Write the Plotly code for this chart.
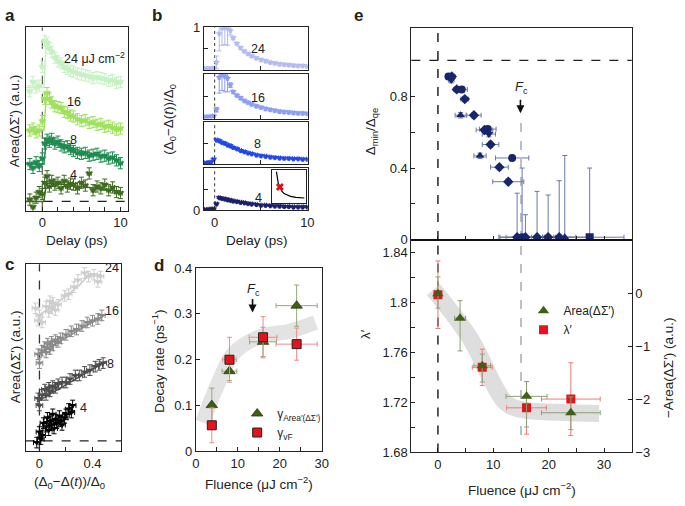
import plotly.graph_objects as go

# ====================== DATA ======================
# ---- panel a : Area(ΔΣ') vs delay, offset curves ----
delay_a = [-1.6, -1.2, -0.8, -0.4, 0.0, 0.3, 0.6, 0.9, 1.2, 1.6, 2.0, 2.4, 2.8, 3.2,
           3.6, 4.0, 4.5, 5.0, 5.5, 6.0, 6.5, 7.0, 7.5, 8.0, 8.5, 9.0, 9.5, 10.0]
area_4 = [0.1, -0.3, 0.2, 0.5, 0.4, 1.0, 1.35, 0.8, 1.1, 0.9, 1.0, 0.7, 1.1, 0.8,
          0.95, 0.9, 0.7, 1.0, 0.85, 1.5, 0.6, 0.8, 0.7, 0.9, 0.6, 0.75, 0.5, 0.45]
area_8 = [2.0, 1.8, 2.1, 1.9, 2.3, 3.1, 3.3, 3.2, 3.35, 3.1, 3.2, 3.0, 2.9, 2.95,
          2.8, 2.7, 2.6, 2.55, 2.6, 2.45, 2.5, 2.55, 2.4, 2.45, 2.3, 2.35, 2.2, 2.05]
area_16 = [3.8, 3.9, 3.7, 3.8, 4.3, 5.5, 5.8, 5.5, 5.3, 5.1, 5.05, 5.0, 4.8, 4.75,
           4.6, 4.55, 4.4, 4.3, 4.35, 4.2, 4.25, 4.1, 4.15, 4.0, 4.05, 3.95, 3.85, 3.9]
area_24 = [5.9, 6.4, 6.1, 6.2, 7.2, 8.6, 8.5, 8.2, 8.0, 7.7, 7.5, 7.4, 7.2, 7.1,
           7.0, 6.95, 6.85, 6.8, 6.75, 6.7, 6.6, 6.65, 6.6, 6.55, 6.45, 6.5, 6.35, 6.4]
fit_t_a = [-2.2, 0.2, 0.5, 1, 2, 3, 4, 5, 6, 7, 8, 9, 10]
fit_a_4 = [0.0, 0.0, 0.95, 0.98, 0.95, 0.9, 0.85, 0.8, 0.75, 0.7, 0.65, 0.6, 0.55]
fit_a_8 = [2.0, 2.0, 3.2, 3.25, 3.15, 3.0, 2.85, 2.7, 2.6, 2.5, 2.4, 2.3, 2.2]
fit_a_16 = [3.8, 3.8, 5.6, 5.5, 5.1, 4.8, 4.55, 4.35, 4.2, 4.1, 4.0, 3.95, 3.9]
fit_a_24 = [6.1, 6.1, 8.5, 8.3, 7.6, 7.2, 7.0, 6.8, 6.7, 6.6, 6.55, 6.5, 6.45]

# ---- panel b : (Δ0-Δ(t))/Δ0 vs delay (each sub-panel normalised) ----
delay_b = [-1.0, -0.7, -0.4, -0.1, 0.2, 0.5, 0.8, 1.1, 1.4, 1.7, 2.0, 2.4, 2.8, 3.2,
           3.6, 4.0, 4.5, 5.0, 5.5, 6.0, 6.5, 7.0, 7.5, 8.0, 8.5, 9.0, 9.5, 10.0]
gap_4 = [0.02, 0.02, 0.03, 0.03, 0.15, 0.30, 0.28, 0.27, 0.25, 0.24, 0.22, 0.21, 0.19, 0.18,
         0.16, 0.15, 0.14, 0.12, 0.12, 0.11, 0.10, 0.10, 0.09, 0.09, 0.08, 0.08, 0.08, 0.08]
gap_8 = [0.03, 0.04, 0.05, 0.12, 0.58, 0.56, 0.52, 0.50, 0.46, 0.44, 0.40, 0.37, 0.33, 0.30,
         0.27, 0.25, 0.22, 0.20, 0.19, 0.17, 0.16, 0.15, 0.14, 0.14, 0.13, 0.13, 0.12, 0.12]
gap_16 = [0.04, 0.04, 0.05, 0.06, 0.20, 0.92, 0.98, 0.95, 0.90, 0.75, 0.60, 0.52, 0.46, 0.40,
          0.36, 0.32, 0.28, 0.25, 0.22, 0.20, 0.18, 0.16, 0.15, 0.14, 0.13, 0.12, 0.12, 0.11]
gap_24 = [0.04, 0.04, 0.04, 0.05, 0.18, 0.85, 0.98, 1.0, 0.98, 0.92, 0.75, 0.62, 0.52, 0.44,
          0.38, 0.33, 0.28, 0.24, 0.21, 0.18, 0.16, 0.14, 0.13, 0.12, 0.11, 0.10, 0.10, 0.09]
gap_err_16 = [0.02, 0.02, 0.02, 0.02, 0.05, 0.35, 0.35, 0.35, 0.30, 0.05, 0.03, 0.03, 0.03, 0.03,
              0.03, 0.03, 0.03, 0.03, 0.03, 0.03, 0.03, 0.03, 0.03, 0.03, 0.03, 0.03, 0.03, 0.03]
gap_err_24 = [0.02, 0.02, 0.02, 0.02, 0.15, 0.40, 0.40, 0.40, 0.40, 0.10, 0.04, 0.03, 0.03, 0.03,
              0.03, 0.03, 0.03, 0.03, 0.03, 0.03, 0.03, 0.03, 0.03, 0.03, 0.03, 0.03, 0.03, 0.03]
inset_x = [0.14, 0.16, 0.19, 0.22, 0.26, 0.30, 0.36, 0.45, 0.55, 0.70, 0.85, 0.95]
inset_y = [1.0, 0.82, 0.65, 0.55, 0.45, 0.37, 0.30, 0.25, 0.21, 0.18, 0.17, 0.16]
inset_star_x = [0.24]
inset_star_y = [0.51]

# ---- panel c : Area(ΔΣ') vs gap suppression ----
c4_x = [-0.02, 0.0, 0.01, 0.02, 0.03, 0.05, 0.06, 0.07, 0.08, 0.09, 0.10, 0.11, 0.12, 0.13,
        0.15, 0.16, 0.17, 0.19, 0.20, 0.22, 0.24, 0.25]
c4_y = [-0.1, 0.5, 0.1, 0.3, 1.0, 0.8, 1.3, 0.6, 1.1, 0.9, 1.5, 0.7, 1.2, 1.0,
        1.4, 1.1, 0.9, 1.3, 1.5, 1.8, 1.6, 2.0]
c8_x = [-0.01, 0.0, 0.02, 0.04, 0.05, 0.07, 0.08, 0.10, 0.12, 0.14, 0.17, 0.20, 0.23, 0.27,
        0.30, 0.34, 0.38, 0.42, 0.45, 0.48]
c8_y = [2.4, 2.0, 2.6, 2.9, 2.6, 3.0, 2.8, 3.1, 3.0, 3.2, 3.3, 3.3, 3.5, 3.7,
        3.7, 3.9, 4.0, 4.2, 4.3, 4.4]
c16_x = [-0.01, 0.0, 0.02, 0.04, 0.05, 0.06, 0.08, 0.09, 0.10, 0.12, 0.14, 0.16, 0.20, 0.24,
         0.28, 0.32, 0.36, 0.40, 0.44, 0.47]
c16_y = [4.9, 4.4, 5.1, 5.3, 5.0, 5.5, 5.2, 5.6, 5.4, 5.7, 5.6, 5.8, 6.0, 6.2,
         6.3, 6.5, 6.7, 6.8, 6.9, 7.1]
c24_x = [-0.03, -0.01, 0.0, 0.02, 0.05, 0.07, 0.08, 0.09, 0.10, 0.12, 0.14, 0.19, 0.22, 0.26,
         0.29, 0.34, 0.37, 0.41, 0.44, 0.46]
c24_y = [7.5, 6.8, 7.1, 6.7, 7.6, 7.3, 7.9, 7.5, 7.8, 7.4, 7.7, 8.2, 8.3, 8.7,
         9.1, 9.5, 9.3, 9.4, 9.0, 9.3]
fit_c_x = [-0.02, 0.50]
fit_c4_y = [0.3, 2.3]
fit_c8_y = [2.2, 4.5]
fit_c16_y = [4.87, 7.16]
fit_c24_x = [-0.02, 0.10, 0.20, 0.30, 0.38, 0.47]
fit_c24_y = [7.07, 7.6, 8.2, 8.8, 9.45, 9.4]

# ---- panel d : decay rates ----
fluence_d = [3.8, 8, 16, 24]
rate_area = [0.101, 0.175, 0.239, 0.318]
rate_area_yerr = [0.037, 0.02, 0.032, 0.045]
rate_area_xerr = [0.4, 1.75, 3.2, 4.9]
rate_vf = [0.057, 0.200, 0.249, 0.234]
rate_vf_yerr = [0.038, 0.049, 0.045, 0.035]
rate_vf_xerr = [0.5, 1.6, 3.3, 4.9]
band_d_x = [1.6, 5.1, 9.0, 15.2, 22.3, 28.5]
band_d_y = [0.063, 0.144, 0.214, 0.250, 0.262, 0.281]

# ---- panel e (top) : Δmin/Δqe ----
fl_top = [1.9, 2.5, 2.4, 3.4, 4.3, 4.85, 4.1, 6.5, 8.4, 9.0, 9.2, 9.5, 7.6, 13.4, 11.1, 12.7,
          14.3, 15.2, 15.8, 17.9, 19.9, 21.9, 22.9, 27.4]
ratio_top = [0.91, 0.91, 0.89, 0.838, 0.838, 0.784, 0.694, 0.694, 0.612, 0.617, 0.589, 0.531,
             0.468, 0.456, 0.405, 0.324,
             0.015, 0.015, 0.015, 0.015, 0.015, 0.015, 0.015, 0.015]
ratio_err_up = [0.015, 0.015, 0.015, 0.015, 0.015, 0.015, 0.015, 0.015, 0.015, 0.015, 0.015,
                0.015, 0.015, 0.015, 0.015, 0.015,
                0.245, 0.385, 0.125, 0.255, 0.235, 0.315, 0.455, 0.385]
ratio_err_dn = [0.015, 0.015, 0.015, 0.015, 0.015, 0.015, 0.015, 0.015, 0.015, 0.015, 0.015,
                0.015, 0.015, 0.015, 0.015, 0.015, 0, 0, 0, 0, 0, 0, 0, 0]
fl_top_xerr = [0.5, 0.6, 0.5, 0.6, 1.0, 0.7, 1.0, 1.3, 1.5, 1.5, 1.2, 1.5, 1.1, 3.0, 1.6, 2.8,
               3.3, 4.0, 3.5, 3.0, 3.0, 3.0, 4.0, 6.2]
sym_top = ['circle', 'diamond', 'triangle-down', 'diamond', 'circle', 'diamond', 'triangle-up',
           'diamond', 'diamond', 'circle', 'triangle-down', 'diamond', 'triangle-up', 'circle',
           'diamond', 'diamond', 'diamond', 'circle', 'diamond', 'diamond', 'diamond', 'diamond',
           'triangle-up', 'square']

# ---- panel e (bottom) : λ' and -Area(ΔΣ') ----
fl_lambda = [0, 8, 16, 24]
lam = [1.806, 1.748, 1.7156, 1.7226]
lam_err = [0.027, 0.0145, 0.021, 0.029]
lam_xerr = [0, 1.8, 3.6, 5.3]
fl_area = [0, 4, 8, 16, 24]
neg_area = [0.0, -0.46, -1.36, -1.94, -2.25]
neg_area_up = [0.32, 0.33, 0.22, 0.28, 0.3]
neg_area_dn = [0.27, 0.62, 0.31, 0.58, 0.32]
fl_area_xerr = [0, 1.0, 1.5, 3.7, 5.3]
band_e_x = [-0.8, 5.7, 12.3, 15.2, 22.0, 29.1]
band_e_y = [1.81, 1.772, 1.7195, 1.714, 1.712, 1.711]

# ====================== STYLE / HELPERS ======================
W, H = 685, 506
FONT = "Liberation Sans, Arial, Helvetica, sans-serif"
LINE = "#222222"
TXT = "#222222"


def xd(x0, x1):
    return [x0 / W, x1 / W]


def yd(y0, y1):
    return [1 - y1 / H, 1 - y0 / H]


def px(x):
    return x / W


def py(y):
    return 1 - y / H


def axis(domain, rng, anchor, tickvals=None, ticktext=None, labels=True, **kw):
    d = dict(domain=domain, range=rng, anchor=anchor, showline=True, mirror=True,
             linecolor=LINE, linewidth=1, ticks='inside', ticklen=4, tickcolor=LINE,
             showgrid=False, zeroline=False, fixedrange=True,
             tickfont=dict(size=13, color=TXT, family=FONT), showticklabels=labels)
    if tickvals is not None:
        d['tickmode'] = 'array'
        d['tickvals'] = tickvals
        d['ticktext'] = ticktext if ticktext is not None else [str(v) for v in tickvals]
    d.update(kw)
    return d


fig = go.Figure()


def add(x, y, xa, ya, color, symbol='triangle-down', size=6, ey=None, ex=None,
        ecolor=None, mode='markers', line=None, name=None, legend=None, mline=None,
        eyminus=None):
    tr = dict(x=x, y=y, xaxis=xa, yaxis=ya, mode=mode, showlegend=False,
              hoverinfo='skip')
    if 'markers' in mode:
        tr['marker'] = dict(symbol=symbol, size=size, color=color,
                            line=mline if mline else dict(width=0))
    if line:
        tr['line'] = line
    ec = ecolor or color
    if ey is not None:
        if isinstance(ey, list):
            e = dict(type='data', array=ey, color=ec, thickness=1, width=2.5)
            if eyminus is not None:
                e['symmetric'] = False
                e['arrayminus'] = eyminus
        else:
            e = dict(type='constant', value=ey, color=ec, thickness=1, width=2.5)
        tr['error_y'] = e
    if ex is not None:
        if isinstance(ex, list):
            e = dict(type='data', array=ex, color=ec, thickness=1, width=2.5)
        else:
            e = dict(type='constant', value=ex, color=ec, thickness=1, width=2.5)
        tr['error_x'] = e
    if name:
        tr['name'] = name
        tr['showlegend'] = True
        tr['legend'] = legend
    fig.add_trace(go.Scatter(**tr))


# ---------------- panel a ----------------
ca = {'4': '#3d6b1f', '8': '#1d8c4e', '16': '#9de25c', '24': '#c6f1c2'}
for key, ys, fy in [('24', area_24, fit_a_24), ('16', area_16, fit_a_16),
                    ('8', area_8, fit_a_8), ('4', area_4, fit_a_4)]:
    add(fit_t_a, fy, 'x', 'y', ca[key], mode='lines', line=dict(color=ca[key], width=1.5))
    add(delay_a, ys, 'x', 'y', ca[key], size=7, ey=0.3, ex=0.25)

# ---------------- panel b ----------------
cb = {'4': '#19216a', '8': '#2347e6', '16': '#8c9df2', '24': '#b3bbf3'}
add(delay_b, gap_24, 'x2', 'y2', cb['24'], size=6, ey=gap_err_24, ex=0.1)
add(delay_b, gap_16, 'x3', 'y3', cb['16'], size=6, ey=gap_err_16, ex=0.1)
add(delay_b, gap_8, 'x4', 'y4', cb['8'], size=6, ey=0.02, ex=0.1)
add(delay_b, gap_4, 'x5', 'y5', cb['4'], size=6, ey=0.02, ex=0.1)
add(inset_x, inset_y, 'x6', 'y6', 'black', mode='lines', line=dict(color='black', width=1.2))
add(inset_star_x, inset_star_y, 'x6', 'y6', '#e01010', symbol='x', size=7)

# ---------------- panel c ----------------
cc = {'4': '#000000', '8': '#4d4d4d', '16': '#8a8a8a', '24': '#cdcdcd'}
add(fit_c24_x, fit_c24_y, 'x7', 'y7', cc['24'], mode='lines', line=dict(color=cc['24'], width=1.5))
add(c24_x, c24_y, 'x7', 'y7', cc['24'], size=6, ey=0.3, ex=0.025)
add(fit_c_x, fit_c16_y, 'x7', 'y7', cc['16'], mode='lines', line=dict(color=cc['16'], width=1.5))
add(c16_x, c16_y, 'x7', 'y7', cc['16'], size=6, ey=0.3, ex=0.025)
add(fit_c_x, fit_c8_y, 'x7', 'y7', cc['8'], mode='lines', line=dict(color=cc['8'], width=1.5))
add(c8_x, c8_y, 'x7', 'y7', cc['8'], size=6, ey=0.3, ex=0.025)
add(c4_x, c4_y, 'x7', 'y7', cc['4'], size=6, ey=0.3, ex=0.025)

# ---------------- panel d ----------------
add(band_d_x, band_d_y, 'x8', 'y8', '#e3e3e3', mode='lines',
    line=dict(color='#e3e3e3', width=15, shape='spline'))
add(fluence_d, rate_area, 'x8', 'y8', '#3f5f14', symbol='triangle-up', size=10,
    ey=rate_area_yerr, ex=rate_area_xerr, ecolor='#93a97c',
    mline=dict(color='#2a3a10', width=0.8),
    name='γ<sub>Area′(ΔΣ′)</sub>', legend='legend')
add(fluence_d, rate_vf, 'x8', 'y8', '#e3141c', symbol='square', size=9,
    ey=rate_vf_yerr, ex=rate_vf_xerr, ecolor='#f08a8a',
    mline=dict(color='#222222', width=1), name='γ<sub>vF</sub>', legend='legend')

# ---------------- panel e ----------------
add(fl_top, ratio_top, 'x9', 'y9', '#17266b', symbol=sym_top, size=8,
    ey=ratio_err_up, eyminus=ratio_err_dn, ex=fl_top_xerr, ecolor='#6a78ad')
add(band_e_x, band_e_y, 'x10', 'y10', '#dedede', mode='lines',
    line=dict(color='#dedede', width=17, shape='spline'))
add(fl_area, neg_area, 'x10', 'y11', '#3f5f14', symbol='triangle-up', size=10,
    ey=neg_area_up, eyminus=neg_area_dn, ex=fl_area_xerr, ecolor='#8aa176',
    name='Area(ΔΣ′)', legend='legend2')
add(fl_lambda, lam, 'x10', 'y10', '#e3141c', symbol='square', size=9,
    ey=lam_err, ex=lam_xerr, ecolor='#f07a7a', name='λ′', legend='legend2')

# ====================== LAYOUT ======================
lay = dict(width=W, height=H, margin=dict(l=0, r=0, t=0, b=0),
           paper_bgcolor='white', plot_bgcolor='white',
           font=dict(family=FONT, size=13, color=TXT))

# panel a
lay['xaxis'] = axis(xd(22, 126), [-2.14, 10.97], 'y', [0, 2, 4, 6, 8, 10],
                    ['0', '', '', '', '', '10'])
lay['yaxis'] = axis(yd(21, 210), [-0.5, 9.32], 'x', [], [], labels=False, ticks='')
# panel b (four stacked boxes)
bx = xd(203, 308.5)
brng = [-1.17, 10.02]
b_boxes = [(21, 65), (69, 115), (119, 162), (166, 209.5)]
for i, (y0, y1) in enumerate(b_boxes):
    n = i + 2
    last = (i == 3)
    lay['xaxis%d' % n] = axis(bx, brng, 'y%d' % n, [0, 5, 10],
                              ['0', '', '10'] if last else ['', '', ''],
                              labels=last)
    if i == 0:
        tv, tt = [0.5, 1.0], ['', '1']
    elif last:
        tv, tt = [0.0, 0.5], ['0', '']
    else:
        tv, tt = [0.5], ['']
    lay['yaxis%d' % n] = axis(yd(y0, y1), [0, 1.0], 'x%d' % n, tv, tt)
# inset
lay['xaxis6'] = axis(xd(272, 307), [0, 1], 'y6', [], [], labels=False, ticks='')
lay['yaxis6'] = axis(yd(168, 202), [0, 1.05], 'x6', [], [], labels=False, ticks='')
# panel c
lay['xaxis7'] = axis(xd(22, 119), [-0.104, 0.615], 'y7', [0, 0.2, 0.4], ['0', '', '0.4'])
lay['yaxis7'] = axis(yd(265, 458), [-0.6, 10], 'x7', [], [], labels=False, ticks='')
# panel d
lay['xaxis8'] = axis(xd(195, 323), [0, 30], 'y8', [0, 5, 10, 15, 20, 25, 30],
                     ['0', '', '10', '', '20', '', '30'])
lay['yaxis8'] = axis(yd(269, 458), [0, 0.4], 'x8', [0, 0.1, 0.2, 0.3, 0.4],
                     ['0', '0.1', '0.2', '0.3', '0.4'])
# panel e
ex_dom = xd(414, 638)
ex_rng = [-4.8, 35]
lay['xaxis9'] = axis(ex_dom, ex_rng, 'y9', [0, 5, 10, 15, 20, 25, 30, 35], None,
                     labels=False)
lay['yaxis9'] = axis(yd(22, 240), [0, 1.178], 'x9', [0, 0.2, 0.4, 0.6, 0.8],
                     ['0', '', '0.4', '', '0.8'])
lay['xaxis10'] = axis(ex_dom, ex_rng, 'y10', [0, 5, 10, 15, 20, 25, 30],
                      ['0', '', '10', '', '20', '', '30'])
lay['yaxis10'] = axis(yd(240, 459), [1.68, 1.8498], 'x10',
                      [1.68, 1.70, 1.72, 1.74, 1.76, 1.78, 1.80, 1.82, 1.84],
                      ['1.68', '', '1.72', '', '1.76', '', '1.8', '', '1.84'])
lay['yaxis11'] = axis(yd(240, 459), [-3, 1.02], 'x10', [-3, -2, -1, 0],
                      ['−3', '−2', '−1', '0'], overlaying='y10', side='right',
                      mirror=False)

# legends
lay['legend'] = dict(x=px(237), y=py(404), xanchor='left', yanchor='top',
                     bgcolor='rgba(0,0,0,0)', font=dict(size=12, family=FONT, color=TXT),
                     itemwidth=30, tracegroupgap=0)
lay['legend2'] = dict(x=px(528), y=py(298), xanchor='left', yanchor='top',
                      bgcolor='rgba(0,0,0,0)', font=dict(size=12, family=FONT, color=TXT),
                      itemwidth=30, tracegroupgap=0)

# shapes
shapes = []


def vline(xv, xr, yr, y0=0, y1=1, color='#444', dash='dash', width=1.3, domain=True):
    shapes.append(dict(type='line', xref=xr, yref=(yr + ' domain') if domain else yr,
                       x0=xv, x1=xv, y0=y0, y1=y1, layer='below',
                       line=dict(color=color, dash=dash, width=width)))


def hline(yv, xr, yr, color='#222', dash='dash', width=1.3):
    shapes.append(dict(type='line', xref=xr + ' domain', yref=yr, x0=0, x1=1,
                       y0=yv, y1=yv, layer='below',
                       line=dict(color=color, dash=dash, width=width)))


vline(0, 'x', 'y', color='#666')
hline(0, 'x', 'y')
for n in range(2, 6):
    vline(0, 'x%d' % n, 'y%d' % n, color='#555', dash='3px,3px', width=1.2)
vline(0, 'x7', 'y7', color='#333')
hline(0, 'x7', 'y7')
vline(0, 'x9', 'y9', color='#222', width=1.5)
hline(1.0, 'x9', 'y9')
vline(15, 'x9', 'y9', y0=0.0, y1=0.69, color='#aaaaaa', width=1.5, domain=False)
vline(0, 'x10', 'y10', color='#222', width=1.5)
vline(15, 'x10', 'y10', y0=1.694, y1=1.8498, color='#aaaaaa', width=1.5, domain=False)
shapes.append(dict(type='line', xref='paper', yref='paper', x0=px(414), x1=px(638),
                   y0=py(240), y1=py(240), line=dict(color='#111', width=2)))
lay['shapes'] = shapes

# annotations
ann = []


def text(x, y, s, size=13, angle=0, bold=False, xanchor='center', xref='paper',
         yref='paper', yanchor='middle'):
    if bold:
        s = '<b>%s</b>' % s
    ann.append(dict(x=x, y=y, xref=xref, yref=yref, text=s, showarrow=False,
                    textangle=angle, xanchor=xanchor, yanchor=yanchor,
                    font=dict(size=size, family=FONT, color=TXT)))


# panel letters
text(px(6), py(9), 'a', 17, bold=True)
text(px(156), py(9), 'b', 17, bold=True)
text(px(6), py(265), 'c', 17, bold=True)
text(px(158), py(266), 'd', 17, bold=True)
text(px(360), py(9), 'e', 17, bold=True)
# axis titles
text(px(11), py(117), 'Area(ΔΣ′) (a.u.)', 13.5, angle=-90)
text(px(74), py(241), 'Delay (ps)', 13.5)
text(px(168), py(116), '(Δ<sub>0</sub>−Δ(<i>t</i>))/Δ<sub>0</sub>', 13.5, angle=-90)
text(px(257), py(241), 'Delay (ps)', 13.5)
text(px(12), py(360), 'Area(ΔΣ′) (a.u.)', 13.5, angle=-90)
text(px(67), py(490), '(Δ<sub>0</sub>−Δ(<i>t</i>))/Δ<sub>0</sub>', 13.5)
text(px(157), py(365), 'Decay rate (ps<sup>−1</sup>)', 13.5, angle=-90)
text(px(259), py(491), 'Fluence (μJ cm<sup>−2</sup>)', 13.5)
text(px(373), py(128), 'Δ<sub>min</sub>/Δ<sub>qe</sub>', 13.5, angle=-90)
text(px(367), py(337), 'λ′', 13.5, angle=-90)
text(px(676), py(372), '−Area(ΔΣ′) (a.u.)', 13.5, angle=-90)
text(px(526), py(497), 'Fluence (μJ cm<sup>−2</sup>)', 13.5)
# curve labels panel a
text(6.7, 7.7, '24 μJ cm<sup>−2</sup>', 12.5, xref='x', yref='y')
text(4.1, 5.34, '16', 12.5, xref='x', yref='y')
text(4.0, 3.3, '8', 12.5, xref='x', yref='y')
text(4.0, 1.42, '4', 12.5, xref='x', yref='y')
# panel b labels
text(4.7, 0.49, '24', 12.5, xref='x2', yref='y2')
text(4.7, 0.46, '16', 12.5, xref='x3', yref='y3')
text(4.6, 0.49, '8', 12.5, xref='x4', yref='y4')
text(4.7, 0.30, '4', 12.5, xref='x5', yref='y5')
# panel c labels
text(0.55, 9.76, '24', 12.5, xref='x7', yref='y7')
text(0.55, 7.36, '16', 12.5, xref='x7', yref='y7')
text(0.535, 4.34, '8', 12.5, xref='x7', yref='y7')
text(0.335, 1.86, '4', 12.5, xref='x7', yref='y7')
# Fc markers
text(13.7, 0.354, '<i>F</i><sub>c</sub>', 13, xref='x8', yref='y8')
ann.append(dict(x=13.5, y=0.303, xref='x8', yref='y8', ax=0, ay=-15, text='',
                showarrow=True, arrowhead=2, arrowsize=1, arrowwidth=1.6, arrowcolor='#111'))
text(15.1, 0.85, '<i>F</i><sub>c</sub>', 13, xref='x9', yref='y9')
ann.append(dict(x=14.9, y=0.705, xref='x9', yref='y9', ax=0, ay=-15, text='',
                showarrow=True, arrowhead=2, arrowsize=1, arrowwidth=1.6, arrowcolor='#111'))
lay['annotations'] = ann

fig.update_layout(**lay)
fig.write_html("out.html",
               config={'displayModeBar': False, 'staticPlot': True},
               post_script="document.body.style.margin='0';"
                           "document.body.style.overflow='hidden';")
